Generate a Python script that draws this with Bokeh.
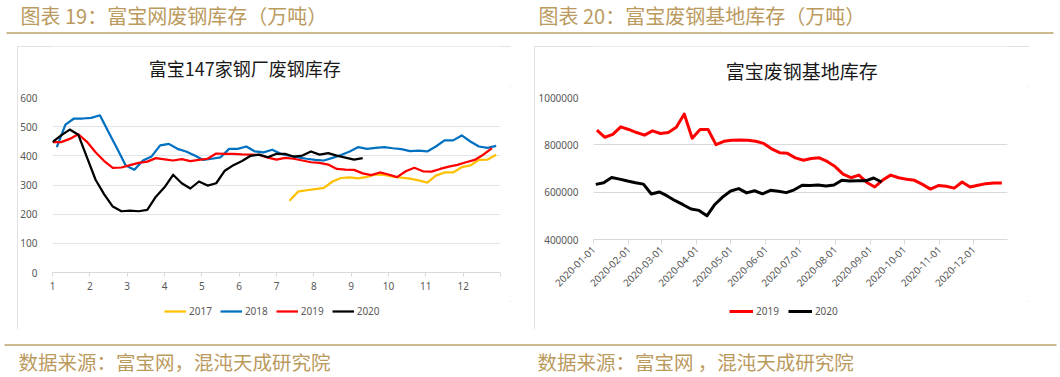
import numpy as np
import pandas as pd
from bokeh.plotting import figure
from bokeh.models import (Range1d, FixedTicker, Legend, LegendItem, DatetimeTickFormatter,
                          Spacer, BasicTickFormatter)
from bokeh.layouts import column, row
from bokeh.embed import file_html
from bokeh.resources import INLINE
from bokeh.core.properties import value

# ---------------- data: 图表19 富宝147家钢厂废钢库存（万吨, weekly） ----------------
inv_2017 = [246, 277, 282, 286, 290, 312, 324, 326, 323, 328, 336, 335, 329, 325, 322, 316,
            308, 332, 343, 343, 361, 367, 386, 387, 404]
inv_2018 = [430, 507, 528, 528, 530, 539, 482, 425, 367, 352, 384, 398, 436, 441, 424, 415,
            401, 386, 390, 395, 424, 424, 432, 415, 412, 421, 407, 401, 395, 390, 386, 384,
            393, 403, 415, 430, 424, 427, 430, 426, 423, 416, 418, 415, 432, 453, 453, 470,
            449, 432, 427, 434]
inv_2019 = [447, 447, 458, 474, 448, 412, 382, 359, 360, 368, 376, 380, 392, 388, 384, 389,
            382, 386, 390, 408, 407, 407, 405, 404, 403, 394, 387, 393, 390, 384, 378, 376,
            370, 355, 353, 352, 340, 334, 343, 336, 327, 347, 359, 347, 346, 355, 363, 369,
            378, 386, 404, 426]
inv_2020 = [447, 470, 490, 472, 395, 318, 268, 226, 210, 212, 210, 215, 260, 292, 335, 306,
            288, 312, 298, 306, 349, 368, 382, 400, 404, 395, 407, 407, 397, 401, 415, 404,
            409, 401, 394, 387, 392]
first_week = {"2017": 27.5, "2018": 0.5, "2019": 0.0, "2020": 0.0}
weeks_per_year = 52
month_ticks = list(range(1, 14))
month_labels = [str(m) for m in range(1, 13)] + [""]
inv_yticks = [0, 100, 200, 300, 400, 500, 600]

# ---------------- data: 图表20 富宝废钢基地库存（吨, weekly） ----------------
base_2019 = [862000, 832000, 844000, 876000, 865000, 852000, 841000, 859000, 848000, 852000,
             874000, 930000, 828000, 865000, 865000, 801000, 815000, 819000, 820000, 819000,
             815000, 806000, 783000, 767000, 764000, 745000, 735000, 742000, 745000, 730000,
             708000, 676000, 661000, 672000, 641000, 622000, 651000, 672000, 661000, 655000,
             650000, 633000, 613000, 628000, 625000, 617000, 643000, 622000, 629000, 636000,
             639000, 639000]
base_2020 = [633000, 640000, 662000, 655000, 647000, 640000, 634000, 592000, 601000, 584000,
             564000, 547000, 529000, 523000, 500000, 548000, 580000, 605000, 615000, 597000,
             606000, 593000, 608000, 604000, 598000, 610000, 629000, 628000, 630000, 626000,
             630000, 650000, 647000, 648000, 648000, 660000, 643000]
base_start = {"2019": "2020-01-04", "2020": "2020-01-03"}
base_yticks = [400000, 600000, 800000, 1000000]
month_starts = pd.date_range("2020-01-01", "2020-12-01", freq="MS")

GOLD = "#bb9a5e"
RULE = "#ccb98f"
AX = "#595959"
CJK = "Noto Sans CJK SC"
LAT = "Noto Sans"


def strip(width, height, y0, y1):
    p = figure(width=width, height=height, x_range=Range1d(0, width),
               y_range=Range1d(y0, y1), x_axis_location=None, y_axis_location=None,
               output_backend="svg", toolbar_location=None, tools="", min_border=0)
    p.outline_line_color = None
    p.grid.visible = False
    return p


# ---------------- header ----------------
head = strip(1060, 46, 46, 0)
head.text(x=[20, 538], y=[15, 15], text=["图表 19：富宝网废钢库存（万吨）", "图表 20：富宝废钢基地库存（万吨）"],
          text_font=value(CJK), text_font_size="20px", text_color=GOLD, text_baseline="middle")
head.segment(x0=[6], y0=[32.5], x1=[1053], y1=[32.5], line_color=RULE, line_width=2)

# ---------------- footer ----------------
foot = strip(1060, 48, 48, 0)
foot.segment(x0=[4], y0=[15.5], x1=[1056], y1=[15.5], line_color=RULE, line_width=2)
foot.text(x=[18, 537], y=[32, 32], text=["数据来源：富宝网，混沌天成研究院", "数据来源：富宝网 ，混沌天成研究院"],
          text_font=value(CJK), text_font_size="19.5px", text_color=GOLD, text_baseline="middle")

BOX = {"outline": "1px solid #d9d9d9", "outline-offset": "-1px"}


def style_axes(p):
    for ax in p.yaxis:
        ax.axis_line_color = None
        ax.major_tick_line_color = None
        ax.minor_tick_line_color = None
        ax.major_label_text_color = AX
        ax.major_label_text_font = LAT
        ax.major_label_text_font_size = "10px"
        ax.major_label_standoff = 9
    for ax in p.xaxis:
        ax.axis_line_color = "#d9d9d9"
        ax.major_tick_line_color = "#d9d9d9"
        ax.major_tick_in = 0
        ax.major_tick_out = 4
        ax.minor_tick_line_color = None
        ax.major_label_text_color = AX
        ax.major_label_text_font = LAT
        ax.major_label_text_font_size = "10px"
    p.xgrid.visible = False


def title_strip(width, text, cx, cy, size):
    t = strip(width, 40, 40, 0)
    t.text(x=[cx], y=[cy], text=[text], text_font=value(CJK), text_font_size=size,
           text_color="#1a1a1a", text_align="center", text_baseline="middle")
    return t


def legend_strip(width, entries, glyph_w, spacing, lw, x_off):
    lf = strip(width, 28, 0, 1)
    items = []
    for name, vals, col in entries:
        # a one-point line draws nothing in the strip; it only feeds the legend swatch
        r = lf.line(x=[-1], y=[vals[0]], line_color=col, line_width=lw)
        items.append(LegendItem(label=name, renderers=[r]))
    lf.add_layout(Legend(items=items, orientation="horizontal", location=(x_off, 8), padding=0,
                         margin=0, spacing=spacing, glyph_width=glyph_w, glyph_height=20,
                         label_height=20, label_standoff=3, label_text_font=LAT,
                         label_text_font_size="10px", label_text_color=AX,
                         border_line_color=None, background_fill_alpha=0))
    return lf


# ---------------- chart 19 ----------------
p1 = figure(width=494, height=215, x_range=Range1d(1, 13), y_range=Range1d(0, 600),
            output_backend="svg", toolbar_location=None, tools="",
            min_border_left=32, min_border_right=11, min_border_top=11, min_border_bottom=29)
p1.outline_line_color = None
p1.yaxis.ticker = FixedTicker(ticks=inv_yticks)
p1.xaxis.ticker = FixedTicker(ticks=month_ticks)
p1.xaxis.major_label_overrides = {t: l for t, l in zip(month_ticks, month_labels)}
p1.ygrid.ticker = FixedTicker(ticks=inv_yticks)
p1.ygrid.grid_line_color = "#e1e5ea"
style_axes(p1)
p1.xaxis.major_label_standoff = 5

series1 = [("2017", inv_2017, "#FFC000"), ("2018", inv_2018, "#0070C0"),
           ("2019", inv_2019, "#FF0000"), ("2020", inv_2020, "#000000")]
for name, vals, col in series1:
    xs = 1 + (first_week[name] + np.arange(len(vals))) * 12 / weeks_per_year
    p1.line(xs, vals, line_color=col, line_width=2.25, line_join="round")
t1 = title_strip(494, "富宝147家钢厂废钢库存", 212, 21, "18px")
l1 = legend_strip(494, series1, 22, 8, 2.25, 112)

# ---------------- chart 20 ----------------
p2 = figure(width=495, height=215, x_axis_type="datetime",
            x_range=Range1d(pd.Timestamp("2020-01-01"), pd.Timestamp("2020-12-31")),
            y_range=Range1d(400000, 1000000),
            output_backend="svg", toolbar_location=None, tools="",
            min_border_left=59, min_border_right=22, min_border_top=11, min_border_bottom=62)
p2.outline_line_color = None
p2.yaxis.ticker = FixedTicker(ticks=base_yticks)
p2.yaxis.formatter = BasicTickFormatter(use_scientific=False)
p2.ygrid.ticker = FixedTicker(ticks=base_yticks)
p2.ygrid.grid_line_color = "#d9d9d9"
p2.xaxis.ticker = FixedTicker(ticks=[t.value / 1e6 for t in month_starts])
fmt = "%Y-%m-%d"
p2.xaxis.formatter = DatetimeTickFormatter(milliseconds=fmt, seconds=fmt, minsec=fmt, minutes=fmt,
                                           hourmin=fmt, hours=fmt, days=fmt, months=fmt, years=fmt)
style_axes(p2)
p2.xaxis.major_tick_out = 5
p2.xaxis.major_label_orientation = np.pi / 4
p2.xaxis.major_label_standoff = 3

series2 = [("2019", base_2019, "#FF0000"), ("2020", base_2020, "#000000")]
for name, vals, col in series2:
    dates = pd.date_range(base_start[name], periods=len(vals), freq="7D")
    p2.line(dates, vals, line_color=col, line_width=3, line_join="round")
t2 = title_strip(495, "富宝废钢基地库存", 249, 24, "19px")
l2 = legend_strip(495, series2, 24, 9, 3, 136)

box1 = column(t1, p1, l1, styles=BOX)
box2 = column(t2, p2, l2, styles=BOX)

layout = column(head,
                row(Spacer(width=17, height=283), box1, Spacer(width=23, height=283), box2,
                    Spacer(width=31, height=283)),
                foot)

open("out.html", "w").write(file_html(layout, INLINE))
